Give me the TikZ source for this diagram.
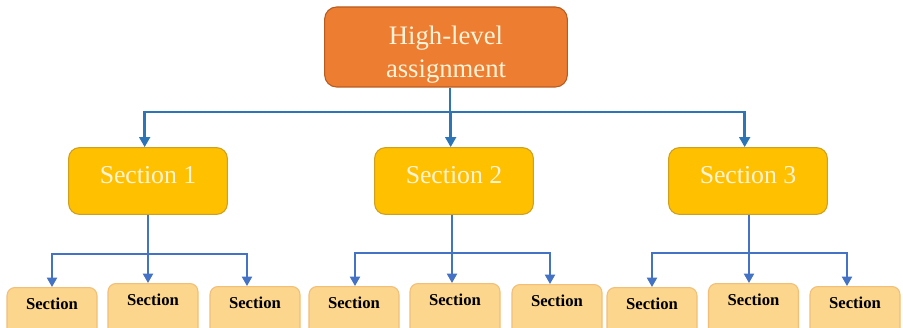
\documentclass[tikz,border=0pt]{standalone}
\usepackage{fontspec}
\setmainfont{Liberation Serif}
\usetikzlibrary{arrows.meta}

\definecolor{topfill}{HTML}{ED7D31}
\definecolor{topdraw}{HTML}{B95B1F}
\definecolor{secfill}{HTML}{FFC000}
\definecolor{secdraw}{HTML}{CFA020}
\definecolor{subfill}{HTML}{FBD68C}
\definecolor{subdraw}{HTML}{F2BE78}
\definecolor{lighttext}{HTML}{FFF4DA}
\definecolor{mainlink}{HTML}{2E75B6}
\definecolor{sublink}{HTML}{4472C4}

\newcommand{\liftlabel}[2]{\raisebox{#1}[\height][\depth]{#2}}

\tikzset{
  topbox/.style={rectangle, rounded corners=9pt, fill=topfill, draw=topdraw, line width=0.8pt,
    minimum width=182pt, minimum height=60pt},
  toptext/.style={align=center, text=lighttext, inner sep=0pt,
    font=\fontsize{20pt}{25pt}\selectfont},
  secbox/.style={rectangle, rounded corners=8pt, fill=secfill, draw=secdraw, line width=0.8pt,
    minimum width=119pt, minimum height=50pt, text=lighttext,
    font=\fontsize{19.3pt}{22pt}\selectfont},
  subbox/.style={rectangle, rounded corners=6pt, fill=subfill, draw=subdraw, line width=0.8pt,
    anchor=north, minimum width=67.5pt, inner ysep=4pt, text height=12.5pt, text depth=30pt,
    font=\fontsize{12.5pt}{14pt}\selectfont\bfseries},
  toplink/.style={draw=mainlink, line width=1.8pt, -{Triangle[width=8pt,length=7.5pt]}},
  toplinkplain/.style={draw=mainlink, line width=1.8pt},
  sublinkarrow/.style={draw=sublink, line width=1.4pt, -{Triangle[width=7.5pt,length=7pt]}},
  sublinkplain/.style={draw=sublink, line width=1.4pt},
}

\begin{document}
\begin{tikzpicture}[x=0.75pt, y=-0.75pt]
  \useasboundingbox (0,0) rectangle (903,328);
  \clip (0,0) rectangle (903,328);
  \fill[white] (0,0) rectangle (903,328);

  % root
  \node[topbox] (top) at (446,47) {};
  \node[toptext] (toplabel) at ([yshift=-5.5pt]top.center) {High-level\\assignment};

  % first level
  \node[secbox] (s1) at (148,181) {\liftlabel{4.5pt}{Section 1}};
  \node[secbox] (s2) at (454,181) {\liftlabel{4.5pt}{Section 2}};
  \node[secbox] (s3) at (748,181) {\liftlabel{4.5pt}{Section 3}};

  % second level
  \node[subbox] (a1) at (52,287)  {Section};
  \node[subbox] (a2) at (153,283) {Section};
  \node[subbox] (a3) at (255,286) {Section};
  \node[subbox] (b1) at (354,286) {Section};
  \node[subbox] (b2) at (455,283) {Section};
  \node[subbox] (b3) at (557,284) {Section};
  \node[subbox] (c1) at (652,287) {Section};
  \node[subbox] (c2) at (753.5,283) {Section};
  \node[subbox] (c3) at (855,286) {Section};

  % root to sections
  \coordinate (jt) at (450,112);
  \draw[toplinkplain] ([xshift=3pt]top.south) -- (jt);
  \foreach \s in {s1,s2,s3}
    \draw[toplink] (jt) -| ([xshift=-2.5pt]\s.north);

  % sections to subsections
  \coordinate (j1) at (148,254);
  \coordinate (j2) at (452,253);
  \coordinate (j3) at (749,253);
  \draw[sublinkplain] (s1.south -| j1) -- (j1);
  \draw[sublinkplain] (s2.south -| j2) -- (j2);
  \draw[sublinkplain] (s3.south -| j3) -- (j3);

  \draw[sublinkarrow] (j1) -| (a1.north);
  \draw[sublinkarrow] (j1) -- (j1 |- a2.north);
  \draw[sublinkarrow] (j1) -| ([xshift=-6pt]a3.north);

  \draw[sublinkarrow] (j2) -| ([xshift=0.75pt]b1.north);
  \draw[sublinkarrow] (j2) -- (j2 |- b2.north);
  \draw[sublinkarrow] (j2) -| ([xshift=-5.25pt]b3.north);

  \draw[sublinkarrow] (j3) -| (c1.north);
  \draw[sublinkarrow] (j3) -- (j3 |- c2.north);
  \draw[sublinkarrow] (j3) -| ([xshift=-6pt]c3.north);
\end{tikzpicture}
\end{document}
